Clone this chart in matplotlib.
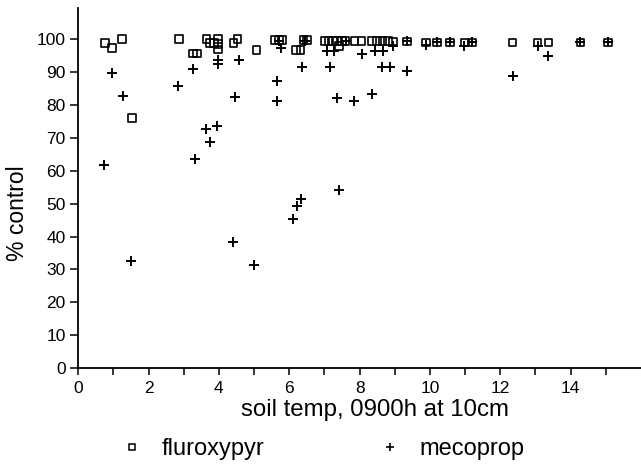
import numpy as np
import matplotlib
matplotlib.use("Agg")
import matplotlib.pyplot as plt
from matplotlib.lines import Line2D

plt.rcParams['font.family'] = ['Liberation Sans', 'DejaVu Sans']

# ---- data ----
flur_temp = [0.76, 0.96, 1.25, 1.53, 2.86, 3.26, 3.38, 3.65, 3.74, 3.86,
             3.97, 3.97, 3.97, 4.42, 4.53, 5.07, 5.6, 5.7, 5.8, 6.2,
             6.32, 6.4, 6.5, 7.0, 7.12, 7.24, 7.36, 7.42, 7.5, 7.6,
             7.85, 8.05, 8.35, 8.5, 8.65, 8.8, 8.95, 9.35, 9.88, 10.2,
             10.57, 11.0, 11.2, 12.35, 13.06, 13.37, 14.28, 15.07]
flur_ctrl = [98.8, 97.3, 100, 76, 100, 95.7, 95.7, 100, 98.8, 98.8,
             100, 98.5, 96.9, 98.8, 100, 96.7, 99.7, 99.7, 99.7, 96.7,
             96.7, 99.7, 99.7, 99.5, 99.5, 99.5, 99.5, 98, 99.5, 99.5,
             99.5, 99.5, 99.5, 99.5, 99.5, 99.5, 99.3, 99.3, 99, 99,
             99, 99, 99, 99, 99, 99, 99, 99]

meco_temp = [0.72, 0.95, 1.26, 1.49, 2.84, 3.27, 3.31, 3.63, 3.74, 3.94,
             3.97, 3.97, 4.40, 4.45, 4.57, 5.0, 5.66, 5.66, 5.77, 5.7,
             6.1, 6.22, 6.32, 6.35, 6.45, 7.06, 7.28, 7.16, 7.35, 7.42,
             7.6, 7.85, 8.06, 8.36, 8.44, 8.67, 8.65, 8.86, 8.95, 9.36,
             9.35, 9.88, 10.2, 10.57, 10.96, 11.2, 12.36, 13.07, 13.37, 14.28,
             15.07]
meco_ctrl = [61.9, 89.8, 82.7, 32.6, 85.7, 90.8, 63.7, 72.6, 68.6, 73.6,
             93.6, 92.6, 38.4, 82.5, 93.6, 31.3, 87.4, 81.3, 97.4, 99.5,
             45.3, 49.2, 51.3, 91.5, 99.5, 96.5, 96.5, 91.5, 82.2, 54.1,
             99.5, 81.3, 95.4, 83.3, 96.5, 96.5, 91.4, 91.4, 98, 90.3,
             99.3, 98.2, 99, 99, 97.9, 99, 88.8, 97.9, 94.8, 99,
             99]

fig = plt.figure(figsize=(6.41, 4.66), dpi=100)
ax = fig.add_axes([0.122, 0.21, 0.878, 0.773])

ax.scatter(flur_temp, flur_ctrl, marker='s', s=30, facecolors='none',
           edgecolors='black', linewidths=1.2, zorder=3)
ax.scatter(meco_temp, meco_ctrl, marker='+', s=45, color='black',
           linewidths=1.4, zorder=4)

ax.set_xlim(0, 16)
ax.set_ylim(0, 109.5)
ax.set_xticks(np.arange(0, 16, 1), minor=True)
ax.set_xticks(np.arange(0, 15, 2))
ax.set_yticks(np.arange(0, 101, 10))

for s in ['top', 'right']:
    ax.spines[s].set_visible(False)
for s in ['left', 'bottom']:
    ax.spines[s].set_linewidth(1.3)

ax.tick_params(axis='both', which='both', direction='out', width=1.1,
               labelsize=12.5, colors='black')
ax.tick_params(axis='y', length=6, pad=3)
ax.tick_params(axis='x', which='both', length=5, pad=4)

ax.set_xlabel('soil temp, 0900h at 10cm', fontsize=17.3, labelpad=2)
ax.xaxis.set_label_coords(0.527, -0.085)
ax.set_ylabel('% control', fontsize=16.5)
ax.yaxis.set_label_coords(-0.087, 0.43)

handles = [Line2D([], [], marker='s', linestyle='none', markersize=5,
                  markerfacecolor='none', markeredgecolor='black', markeredgewidth=1.1),
           Line2D([], [], marker='+', linestyle='none', markersize=6,
                  color='black', markeredgewidth=1.2)]
fig.legend(handles, ['fluroxypyr', 'mecoprop'], loc='center',
           bbox_to_anchor=(0.505, 0.036), ncol=2, frameon=False,
           fontsize=17, columnspacing=4.9, handlelength=0.8,
           handletextpad=0.85)

fig.savefig('out.png', dpi=100)
